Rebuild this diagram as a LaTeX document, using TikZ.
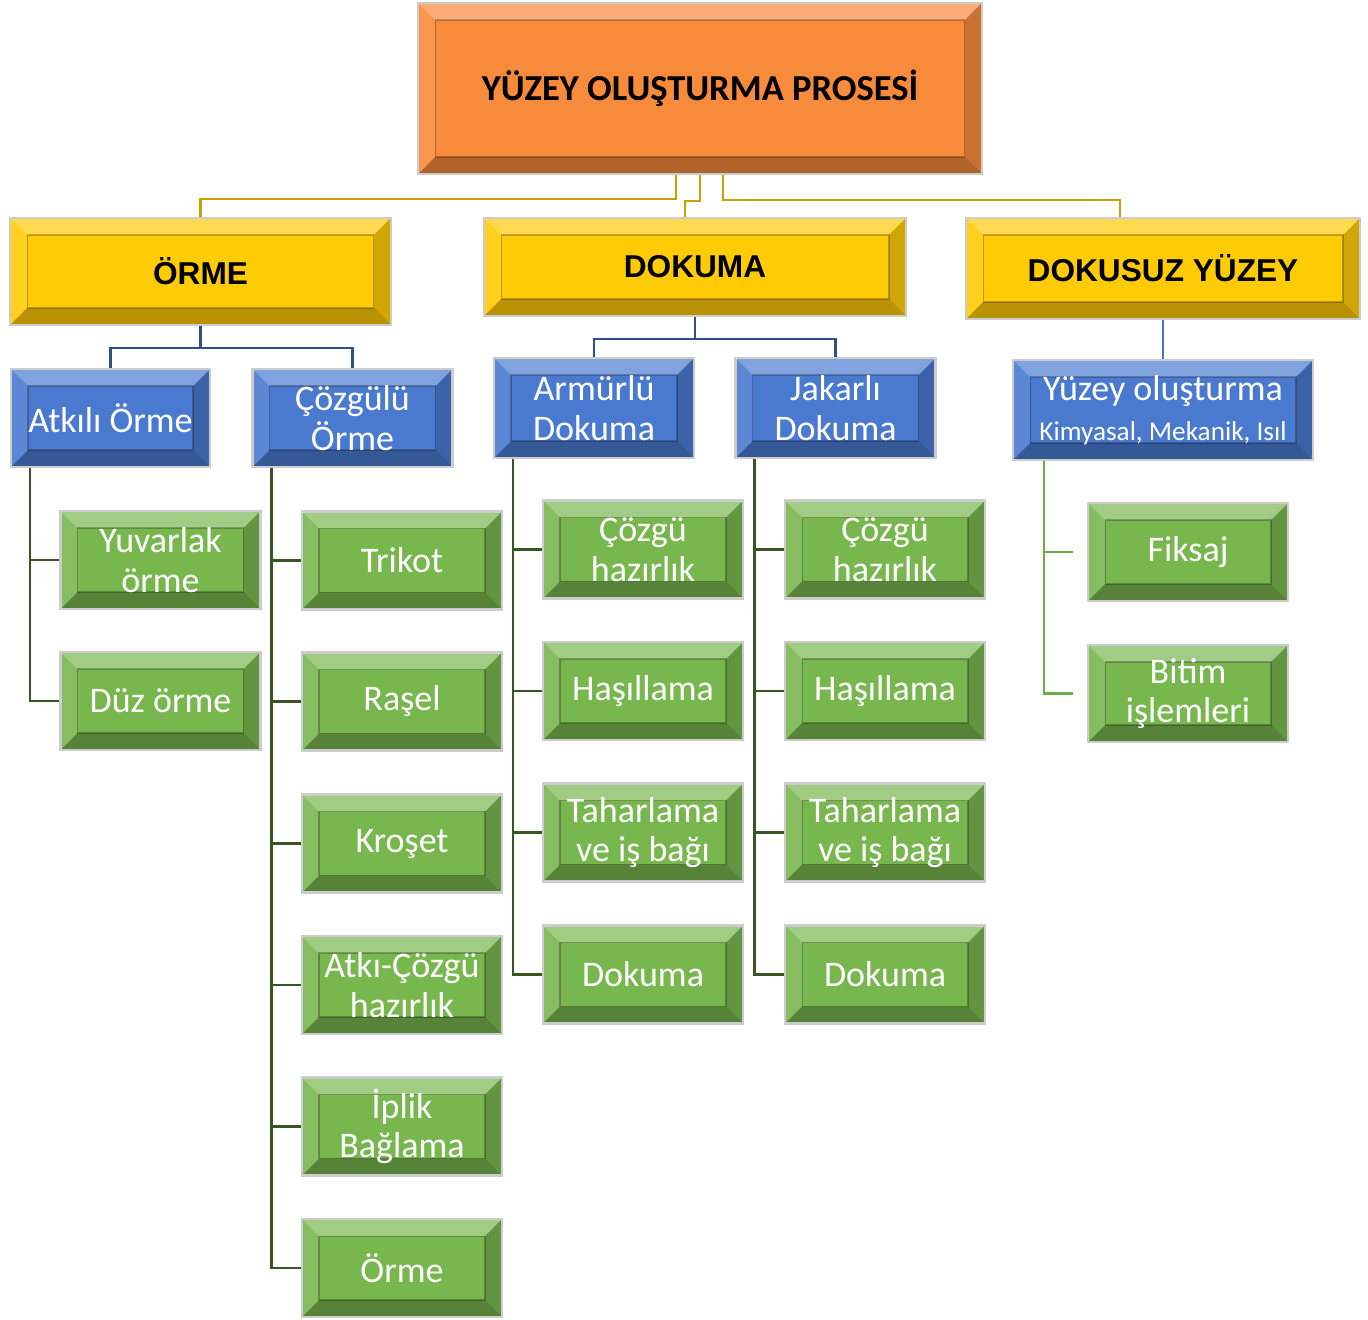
\documentclass[tikz,border=0pt]{standalone}
\usepackage{fontspec}
\setmainfont{Carlito}
\newfontfamily\arialfont{Liberation Sans}
\usetikzlibrary{calc}

\definecolor{orangefill}{HTML}{F88A3B}
\definecolor{yellowfill}{HTML}{FFCB05}
\definecolor{bluefill}{HTML}{4A7AD0}
\definecolor{greenfill}{HTML}{78B64E}
\definecolor{goldline}{HTML}{C9A000}
\definecolor{navyline}{HTML}{2F4F8C}
\definecolor{skyline}{HTML}{4472C4}
\definecolor{leafline}{HTML}{70AD47}
\definecolor{forestline}{HTML}{375623}

\newcommand{\bv}{0.34cm}
\newcommand{\titlefont}{\bfseries\fontsize{20.8}{24}\selectfont}
\newcommand{\headfont}{\arialfont\bfseries\fontsize{18}{21}\selectfont}
\newcommand{\labelfont}{\fontsize{20.5}{22.5}\selectfont}
\newcommand{\smallfont}{\fontsize{15.5}{18}\selectfont}

% bevelled faces drawn inside every box
\newcommand{\bevelfaces}{%
  \path (path picture bounding box.north west) coordinate (bnw)
        (path picture bounding box.north east) coordinate (bne)
        (path picture bounding box.south west) coordinate (bsw)
        (path picture bounding box.south east) coordinate (bse);
  \fill[white,opacity=.3] (bnw) -- (bne) -- ([shift={(-\bv,-\bv)}]bne) -- ([shift={(\bv,-\bv)}]bnw) -- cycle;
  \fill[black,opacity=.28] (bsw) -- (bse) -- ([shift={(-\bv,\bv)}]bse) -- ([shift={(\bv,\bv)}]bsw) -- cycle;
  \fill[black,opacity=.18] (bne) -- (bse) -- ([shift={(-\bv,\bv)}]bse) -- ([shift={(-\bv,-\bv)}]bne) -- cycle;
  \fill[white,opacity=.1] (bnw) -- (bsw) -- ([shift={(\bv,\bv)}]bsw) -- ([shift={(\bv,-\bv)}]bnw) -- cycle;
  \draw[black,opacity=.25,line width=.6pt] ([shift={(\bv,-\bv)}]bnw) rectangle ([shift={(-\bv,\bv)}]bse);
}

\tikzset{
  box/.style={rectangle, draw=gray!40, line width=1.2pt, inner sep=0pt, align=center, path picture={\bevelfaces}},
  topbox/.style={box, fill=orangefill, minimum width=11.28cm, minimum height=3.42cm, font=\titlefont},
  headbox/.style={box, fill=yellowfill, font=\headfont},
  subbox/.style={box, fill=bluefill, text=white, minimum width=4cm, minimum height=2cm, font=\labelfont},
  stepbox/.style={box, fill=greenfill, text=white, minimum width=4cm, minimum height=1.96cm, font=\labelfont},
  goldlink/.style={draw=goldline, line width=1.6pt},
  navylink/.style={draw=navyline, line width=1.4pt},
  greenlink/.style={draw=forestline, line width=1.2pt},
}

\begin{document}
\begin{tikzpicture}[x=0.02cm, y=-0.02cm]
  \useasboundingbox (0,0) rectangle (1368,1319);

  % top of the tree
  \node[topbox] (top) at (700,88.5) {YÜZEY OLUŞTURMA PROSESİ};

  % three main branches
  \node[headbox, minimum width=7.62cm, minimum height=2.14cm] (orme) at (200.5,271.5) {ÖRME};
  \node[headbox, minimum width=8.44cm, minimum height=1.96cm] (dokuma) at (695,267) {DOKUMA};
  \node[headbox, minimum width=7.88cm, minimum height=2.02cm] (dokusuz) at (1163,268.5) {DOKUSUZ YÜZEY};

  \draw[goldlink] ($(top.south)+(-24,0)$) -- ++(0,24) -| (orme.north);
  \draw[goldlink] (top.south) -- ++(0,26) -| ($(dokuma.north)+(-10,0)$);
  \draw[goldlink] ($(top.south)+(23,0)$) -- ++(0,25) -| ($(dokusuz.north)+(-43,0)$);

  % sub groups
  \node[subbox, minimum width=3.98cm, minimum height=1.96cm] (atkili) at (110.5,418) {Atkılı Örme};
  \node[subbox, minimum height=1.96cm] (cozgulu) at (352.5,418) {Çözgülü\\Örme};
  \node[subbox] (armurlu) at (594,408) {Armürlü\\Dokuma};
  \node[subbox] (jakarli) at (835.5,408) {Jakarlı\\Dokuma};
  \node[subbox, minimum width=6cm] (yuzeyol) at (1163,410) {Yüzey oluşturma\\{\smallfont Kimyasal, Mekanik, Isıl}};

  \draw[navylink] (orme.south) -- ++(0,22) -| (atkili.north);
  \draw[navylink] (orme.south) -- ++(0,22) -| (cozgulu.north);
  \draw[navylink] (dokuma.south) -- ++(0,22) -| (armurlu.north);
  \draw[navylink] (dokuma.south) -- ++(0,22) -| (jakarli.north);
  \draw[draw=skyline, line width=1.2pt] (dokusuz.south) -- (yuzeyol.north);

  % steps under Atkılı Örme
  \node[stepbox] (yuvarlak) at (160.5,560) {Yuvarlak\\örme};
  \node[stepbox] (duz) at (160.5,701) {Düz örme};

  % steps under Çözgülü Örme
  \node[stepbox] (trikot) at (402,560.5) {Trikot};
  \node[stepbox] (rasel) at (402,701.5) {Raşel};
  \node[stepbox] (kroset) at (402,843.5) {Kroşet};
  \node[stepbox] (atkicozgu) at (402,985) {Atkı-Çözgü\\hazırlık};
  \node[stepbox] (iplik) at (402,1126.5) {İplik\\Bağlama};
  \node[stepbox] (ormeson) at (402,1268) {Örme};

  % steps under Armürlü and Jakarlı Dokuma
  \node[stepbox] (cozguA) at (643,549.5) {Çözgü\\hazırlık};
  \node[stepbox] (hasA) at (643,691) {Haşıllama};
  \node[stepbox] (taharA) at (643,832.5) {Taharlama\\ve iş bağı};
  \node[stepbox] (dokA) at (643,974.5) {Dokuma};
  \node[stepbox] (cozguJ) at (885,549.5) {Çözgü\\hazırlık};
  \node[stepbox] (hasJ) at (885,691) {Haşıllama};
  \node[stepbox] (taharJ) at (885,832.5) {Taharlama\\ve iş bağı};
  \node[stepbox] (dokJ) at (885,974.5) {Dokuma};

  % steps under Yüzey oluşturma
  \node[stepbox, minimum height=1.96cm] (fiksaj) at (1188,552) {Fiksaj};
  \node[stepbox, minimum height=1.94cm] (bitim) at (1188,693.5) {Bitim\\işlemleri};

  % green trunks and branches
  \coordinate (ra) at ($(atkili.south west)+(20,0)$);
  \coordinate (rb) at ($(cozgulu.south west)+(20,0)$);
  \coordinate (rc) at ($(armurlu.south west)+(20,0)$);
  \coordinate (rd) at ($(jakarli.south west)+(20,0)$);
  \coordinate (re) at ($(yuzeyol.south west)+(32,0)$);

  \draw[greenlink] (ra) |- (duz.west);
  \draw[greenlink] (ra |- yuvarlak.west) -- (yuvarlak.west);
  \draw[greenlink] (rb) |- (ormeson.west);
  \foreach \n in {trikot,rasel,kroset,atkicozgu,iplik}
    \draw[greenlink] (rb |- \n.west) -- (\n.west);
  \draw[greenlink] (rc) |- (dokA.west);
  \foreach \n in {cozguA,hasA,taharA}
    \draw[greenlink] (rc |- \n.west) -- (\n.west);
  \draw[greenlink] (rd) |- (dokJ.west);
  \foreach \n in {cozguJ,hasJ,taharJ}
    \draw[greenlink] (rd |- \n.west) -- (\n.west);
  \draw[draw=leafline, line width=1.6pt] (re) |- ($(bitim.west)+(-14,0)$);
  \draw[draw=leafline, line width=1.6pt] (re |- fiksaj.west) -- ($(fiksaj.west)+(-14,0)$);
\end{tikzpicture}
\end{document}
